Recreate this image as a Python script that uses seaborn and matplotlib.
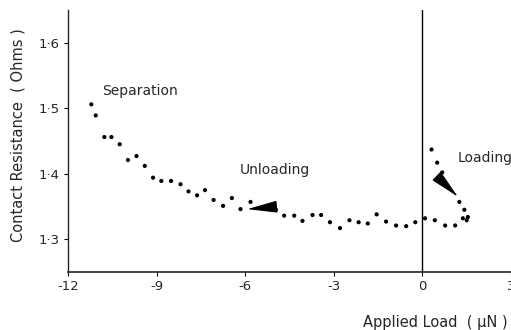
import matplotlib
matplotlib.use("Agg")
import matplotlib.pyplot as plt
import seaborn as sns
import pandas as pd

load = [-11.21, -11.06, -10.77, -10.53, -10.25, -9.97, -9.68, -9.40, -9.12, -8.84,
        -8.51, -8.19, -7.92, -7.63, -7.36, -7.07, -6.75, -6.45, -6.16, -5.82,
        -4.96, -4.68, -4.34, -4.06, -3.72, -3.43, -3.13, -2.79, -2.47, -2.16,
        -1.85, -1.55, -1.23, -0.89, -0.55, -0.24, 0.09, 0.42, 0.77, 1.11,
        1.37, 1.50, 1.54, 1.42, 1.25, 0.67, 0.50, 0.31]
resistance = [1.506, 1.489, 1.456, 1.456, 1.445, 1.421, 1.427, 1.412, 1.394, 1.389,
              1.389, 1.384, 1.373, 1.367, 1.375, 1.360, 1.351, 1.363, 1.346, 1.357,
              1.345, 1.336, 1.336, 1.328, 1.337, 1.337, 1.326, 1.317, 1.329, 1.326,
              1.324, 1.338, 1.327, 1.321, 1.320, 1.326, 1.332, 1.329, 1.321, 1.321,
              1.332, 1.329, 1.334, 1.345, 1.357, 1.402, 1.417, 1.437]

x_ticks = [-12, -9, -6, -3, 0, 3]
x_tick_labels = ["-12", "-9", "-6", "-3", "0", "3"]
y_ticks = [1.3, 1.4, 1.5, 1.6]
y_tick_labels = ["1·3", "1·4", "1·5", "1·6"]

df = pd.DataFrame({"load": load, "resistance": resistance})

sns.set_style("ticks")
plt.rcParams["font.family"] = ["DejaVu Sans"]

fig = plt.figure(figsize=(5.11, 3.30), dpi=100)
ax = fig.add_axes([68 / 511, 58 / 330, 1 - 68 / 511, 262 / 330])

sns.scatterplot(data=df, x="load", y="resistance", ax=ax, color="black",
                s=9, marker="o", edgecolor="none", legend=False)

ax.set_xlim(-12, 3)
ax.set_ylim(1.25, 1.65)
ax.axvline(0, color="black", lw=1.0)

ax.set_xticks(x_ticks)
ax.set_xticklabels(x_tick_labels, fontsize=9.5)
ax.set_yticks(y_ticks)
ax.set_yticklabels(y_tick_labels, fontsize=9.5)
ax.tick_params(axis="both", direction="out", length=3, width=0.8, color="black", pad=3)

for s in ["top", "right"]:
    ax.spines[s].set_visible(False)
ax.spines["left"].set_linewidth(1.0)
ax.spines["bottom"].set_linewidth(1.2)
ax.set_xlabel("")
ax.set_ylabel("")

ax.text(-10.85, 1.526, "Separation", fontsize=10, va="center", ha="left")
ax.text(-6.2, 1.405, "Unloading", fontsize=10, va="center", ha="left")
ax.text(1.19, 1.424, "Loading", fontsize=10, va="center", ha="left")

arrow = dict(arrowstyle="-|>,head_length=1.9,head_width=0.38", color="black",
             lw=0.8, shrinkA=0, shrinkB=0)
ax.annotate("", xy=(-5.93, 1.346), xytext=(-5.12, 1.349), arrowprops=arrow)
ax.annotate("", xy=(1.20, 1.365), xytext=(0.63, 1.390), arrowprops=arrow)

fig.text(18 / 511, 1 - 135 / 330, "Contact Resistance  ( Ohms )", rotation=90,
         fontsize=10.5, ha="center", va="center")
fig.text(435 / 511, 1 - 322 / 330, "Applied Load  ( μN )", fontsize=10.5,
         ha="center", va="center")

fig.savefig("out.png", dpi=100)
